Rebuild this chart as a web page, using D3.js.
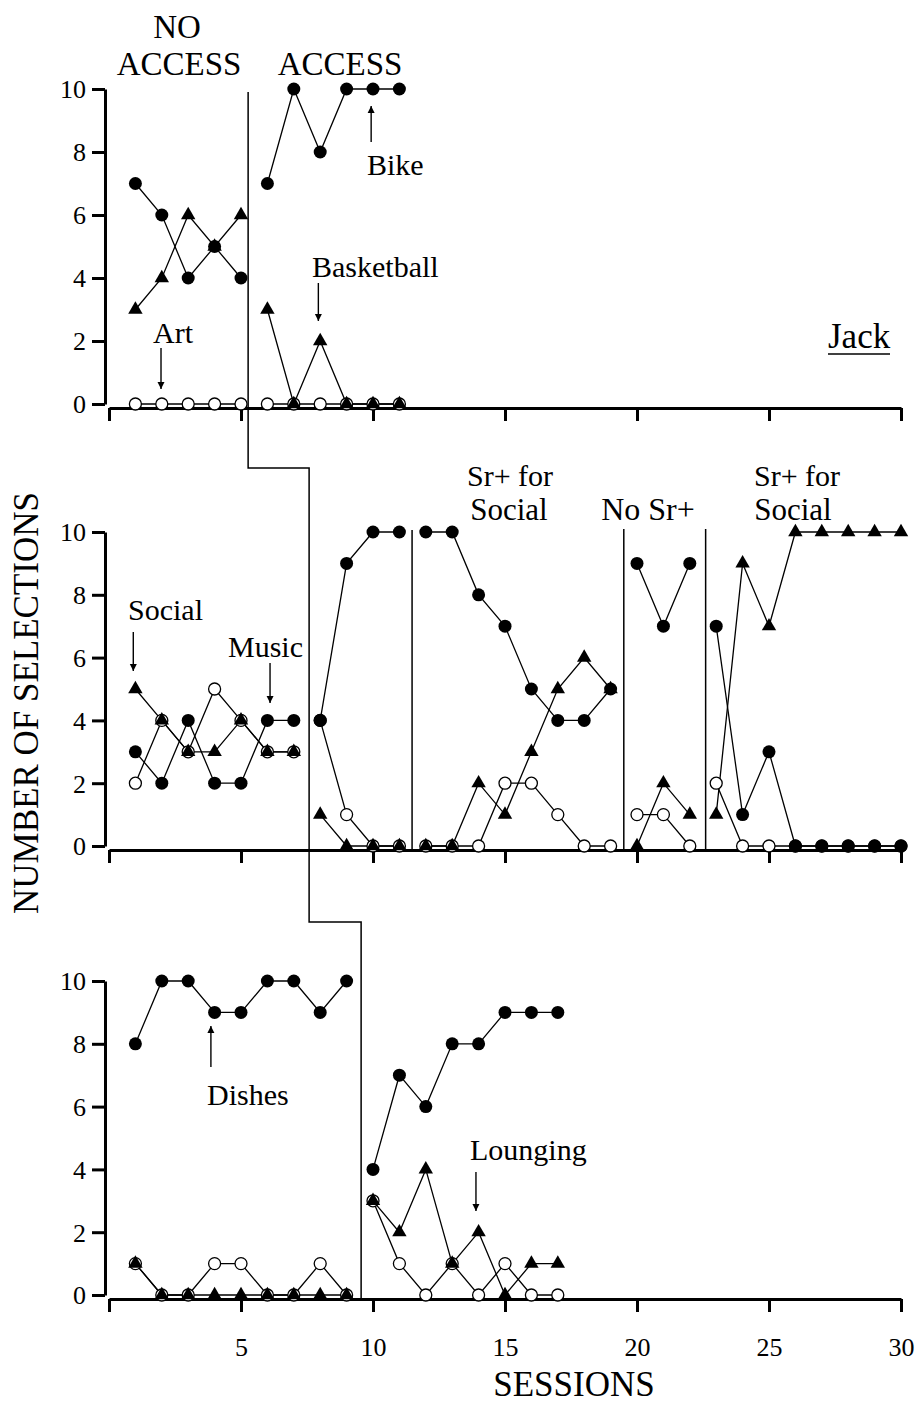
<!DOCTYPE html>
<html><head><meta charset="utf-8">
<script src="https://cdn.jsdelivr.net/npm/d3@7"></script>
<style>
body{margin:0;background:#fff}
svg{display:block}
text{font-family:"Liberation Serif","Times New Roman",serif;fill:#000}
</style>
</head><body>
<svg id="c" width="917" height="1408"></svg>
<script>
// ---------- data ----------
const topPhases = [[1,2,3,4,5],[6,7,8,9,10,11]];
const topBike = [[7,6,4,5,4],[7,10,8,10,10,10]];
const topBasketball = [[3,4,6,5,6],[3,0,2,0,0,0]];
const topArt = [[0,0,0,0,0],[0,0,0,0,0,0]];

const midPhases = [[1,2,3,4,5,6,7],[8,9,10,11],[12,13,14,15,16,17,18,19],[20,21,22],[23,24,25,26,27,28,29,30]];
const midMusic = [[3,2,4,2,2,4,4],[4,9,10,10],[10,10,8,7,5,4,4,5],[9,7,9],[7,1,3,0,0,0,0,0]];
const midSocial = [[5,4,3,3,4,3,3],[1,0,0,0],[0,0,2,1,3,5,6,5],[0,2,1],[1,9,7,10,10,10,10,10]];
const midOther = [[2,4,3,5,4,3,3],[4,1,0,0],[0,0,0,2,2,1,0,0],[1,1,0],[2,0,0,0,0,0,0,0]];

const botPhases = [[1,2,3,4,5,6,7,8,9],[10,11,12,13,14,15,16,17]];
const botDishes = [[8,10,10,9,9,10,10,9,10],[4,7,6,8,8,9,9,9]];
const botLounging = [[1,0,0,0,0,0,0,0,0],[3,2,4,1,2,0,1,1]];
const botOther = [[1,0,0,1,1,0,0,1,0],[3,1,0,1,0,1,0,0]];

const yTicks = [0,2,4,6,8,10];
const xTicks = [0,5,10,15,20,25,30];

// ---------- layout ----------
const svg = d3.select("#c");
const x = d3.scaleLinear().domain([0,30]).range([109,901]);
const panels = [
  {y0:404, y10:89, phases:topPhases, open:topArt, filled:topBike, tri:topBasketball, labels:false},
  {y0:846, y10:532, phases:midPhases, open:midOther, filled:midMusic, tri:midSocial, labels:false},
  {y0:1295, y10:981, phases:botPhases, open:botOther, filled:botDishes, tri:botLounging, labels:true}
];

const triSym = d3.symbol().type(d3.symbolTriangle).size(90);

panels.forEach(p => {
  const y = d3.scaleLinear().domain([0,10]).range([p.y0, p.y10]);
  p.y = y;
  const ya = svg.append("g").attr("transform","translate(105,0)")
    .call(d3.axisLeft(y).tickValues(yTicks).tickSize(13).tickSizeOuter(0).tickPadding(6));
  ya.select(".domain").attr("stroke","#000").attr("stroke-width",3);
  ya.selectAll(".tick line").attr("stroke","#000").attr("stroke-width",3);
  ya.selectAll(".tick text").attr("font-size",26).attr("font-family","Liberation Serif").attr("dy","0.34em");
  const xa = svg.append("g").attr("transform",`translate(0,${p.y0+4})`)
    .call(d3.axisBottom(x).tickValues(xTicks).tickSize(13).tickSizeOuter(0).tickPadding(26)
      .tickFormat(d => (p.labels && d !== 0) ? d : ""));
  xa.select(".domain").attr("stroke","#000").attr("stroke-width",3);
  xa.selectAll(".tick line").attr("stroke","#000").attr("stroke-width",3);
  xa.selectAll(".tick text").attr("font-size",26).attr("font-family","Liberation Serif");

  const line = d3.line().x(d => x(d[0])).y(d => y(d[1]));
  const g = svg.append("g");
  const seriesList = [["open",p.open],["filled",p.filled],["tri",p.tri]];
  seriesList.forEach(([k, s]) => {
    p.phases.forEach((ph, i) => {
      const pts = ph.map((sess, j) => [sess, s[i][j]]);
      g.append("path").attr("d", line(pts)).attr("fill","none")
        .attr("stroke","#000").attr("stroke-width",1.3);
    });
  });
  seriesList.forEach(([k, s]) => {
    p.phases.forEach((ph, i) => {
      ph.forEach((sess, j) => {
        const cx = x(sess), cy = y(s[i][j]);
        if (k === "open") {
          g.append("circle").attr("cx",cx).attr("cy",cy).attr("r",6)
            .attr("fill","#fff").attr("stroke","#000").attr("stroke-width",1.3);
        } else if (k === "filled") {
          g.append("circle").attr("cx",cx).attr("cy",cy).attr("r",6.5).attr("fill","#000");
        } else {
          g.append("path").attr("d",triSym()).attr("transform",`translate(${cx},${cy})`).attr("fill","#000");
        }
      });
    });
  });
});

// ---------- phase change lines ----------
const P = panels;
const phaseLine = d3.line();
svg.append("path").attr("fill","none").attr("stroke","#000").attr("stroke-width",1.5)
  .attr("d", phaseLine([[x(5.27),92],[x(5.27),468],[x(7.58),468],[x(7.58),922],[x(9.55),922],[x(9.55),P[2].y0+4]]));
[[11.48,530],[19.5,529],[22.6,529]].forEach(([s,top]) => {
  svg.append("line").attr("x1",x(s)).attr("x2",x(s)).attr("y1",top).attr("y2",P[1].y0+4)
    .attr("stroke","#000").attr("stroke-width",1.5);
});

// ---------- text ----------
function txt(t, xx, yy, size, anchor) {
  return svg.append("text").attr("x",xx).attr("y",yy).attr("font-size",size)
    .attr("text-anchor",anchor || "start").text(t);
}
txt("NO",177,38,33,"middle");
txt("ACCESS",179,75,33,"middle");
txt("ACCESS",340,75,33,"middle");
txt("Sr+ for",510,485.5,30,"middle");
txt("Social",509,520,31,"middle");
txt("No Sr+",648,520,32,"middle");
txt("Sr+ for",797,485.5,30,"middle");
txt("Social",793,520,31,"middle");
txt("Jack",828,348,35,"start");
svg.append("line").attr("x1",828).attr("x2",890).attr("y1",354).attr("y2",354).attr("stroke","#000").attr("stroke-width",1.5);

svg.append("defs").append("marker").attr("id","ah").attr("viewBox","0 0 10 10")
  .attr("refX",10).attr("refY",5).attr("markerWidth",7).attr("markerHeight",8)
  .attr("markerUnits","userSpaceOnUse").attr("orient","auto")
  .append("path").attr("d","M0,0 L10,5 L0,10 Z").attr("fill","#000");
function arrow(xx, y1, y2) {
  svg.append("line").attr("x1",xx).attr("x2",xx).attr("y1",y1).attr("y2",y2)
    .attr("stroke","#000").attr("stroke-width",1.4).attr("marker-end","url(#ah)");
}
txt("Bike",367,175,30); arrow(x(9.93),142,106);
txt("Basketball",312,277,30); arrow(x(7.93),283,321);
txt("Art",153,343,30); arrow(x(1.97),348,389);
txt("Social",128,620,30); arrow(x(0.92),632,671);
txt("Music",228,657,30); arrow(x(6.1),663,703);
txt("Dishes",207,1105,30); arrow(x(3.86),1067,1026);
txt("Lounging",470,1160,30); arrow(x(13.9),1172,1211);

svg.append("text").attr("transform","translate(38,703) rotate(-90)").attr("text-anchor","middle")
  .attr("font-size",35).text("NUMBER OF SELECTIONS");
txt("SESSIONS",574,1396,35,"middle");
</script>
</body></html>
